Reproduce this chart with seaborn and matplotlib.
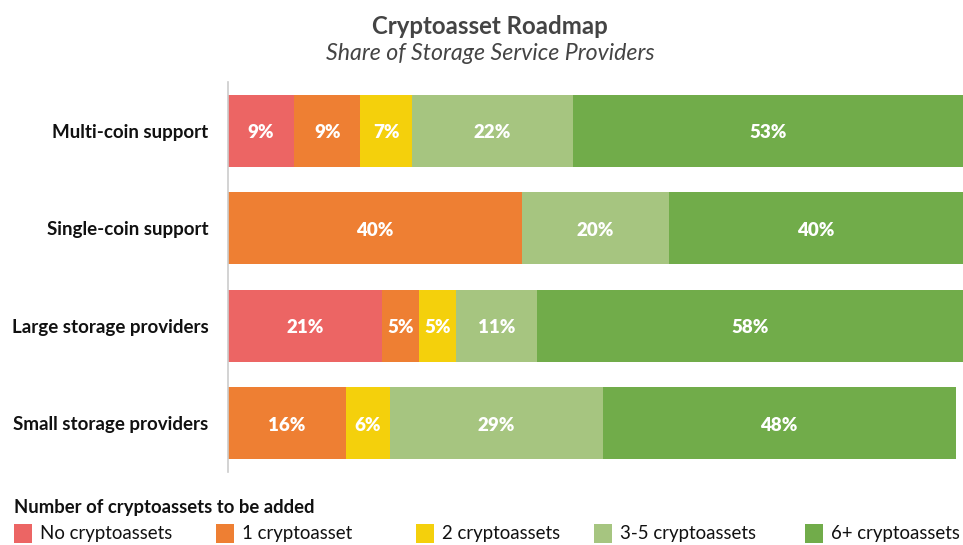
import matplotlib
matplotlib.use("Agg")
import matplotlib.pyplot as plt
from matplotlib.patches import Rectangle
import numpy as np
import pandas as pd
import seaborn as sns

sns.set_style("white")
plt.rcParams["font.family"] = ["Lato", "DejaVu Sans"]

groups = ["Multi-coin support", "Single-coin support",
          "Large storage providers", "Small storage providers"]
series = ["No cryptoassets", "1 cryptoasset", "2 cryptoassets",
          "3-5 cryptoassets", "6+ cryptoassets"]
no_assets = [9, 0, 21, 0]
one_asset = [9, 40, 5, 16]
two_assets = [7, 0, 5, 6]
three_five = [22, 20, 11, 29]
six_plus = [53, 40, 58, 48]
colors = ["#EC6564", "#EE7F33", "#F4D00C", "#A6C580", "#71AC4A"]

values = np.array([no_assets, one_asset, two_assets, three_five, six_plus], dtype=float)
cum = values.cumsum(axis=0)

fig = plt.figure(figsize=(9.63, 5.45), dpi=100)
ax = fig.add_axes([228 / 963, 1 - 472 / 545, (963 - 228) / 963, 390 / 545])

# stacked bars: draw cumulative totals from the outermost segment inward
for i in range(len(series) - 1, -1, -1):
    df = pd.DataFrame({"group": groups, "total": cum[i]})
    sns.barplot(data=df, x="total", y="group", order=groups, color=colors[i],
                saturation=1, width=0.74, orient="h", ax=ax, linewidth=0)

for i in range(len(series)):
    for j in range(len(groups)):
        v = values[i, j]
        if v > 0:
            ax.text(cum[i, j] - v / 2, j + 0.02, f"{int(v)}%", ha="center", va="center",
                    color="white", fontsize=13.5, fontweight="heavy")

ax.set_xlim(0, 100)
ax.set_ylim(3.5, -0.5)
ax.set_xlabel("")
ax.set_ylabel("")
ax.set_xticks([])
ax.tick_params(axis="y", length=0, pad=14)
for lbl in ax.get_yticklabels():
    lbl.set_fontweight("bold")
    lbl.set_fontsize(13.5)
    lbl.set_color("#111111")
for s in ["top", "right", "bottom"]:
    ax.spines[s].set_visible(False)
ax.spines["left"].set_color("#cccccc")
ax.spines["left"].set_linewidth(1.2)

fig.text(490 / 963, 1 - 26 / 545, "Cryptoasset Roadmap", ha="center", va="center",
         fontsize=17.3, fontweight="bold", color="#444444")
fig.text(490 / 963, 1 - 53 / 545, "Share of Storage Service Providers", ha="center",
         va="center", fontsize=16.7, fontstyle="italic", color="#444444")

# legend
fig.text(14 / 963, 1 - 507 / 545, "Number of cryptoassets to be added", ha="left",
         va="center", fontsize=13.3, fontweight="bold", color="#111111")
xs = [14, 216, 416, 594, 805]
for x, name, c in zip(xs, series, colors):
    fig.add_artist(Rectangle((x / 963, 1 - 543 / 545), 18 / 963, 19 / 545,
                             transform=fig.transFigure, color=c, lw=0))
    fig.text((x + 26) / 963, 1 - 533 / 545, name, ha="left", va="center",
             fontsize=13.4, color="#111111")

fig.savefig("out.png", dpi=100)
